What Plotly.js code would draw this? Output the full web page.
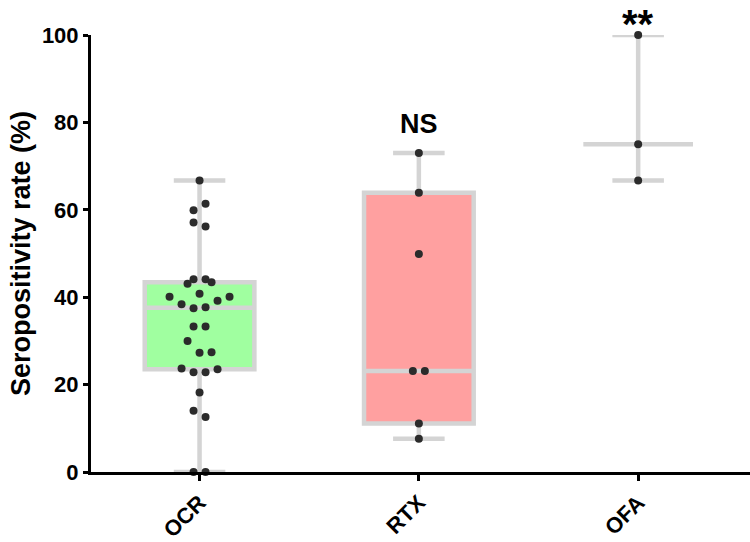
<!DOCTYPE html>
<html>
<head>
<meta charset="utf-8">
<script src="https://cdn.plot.ly/plotly-3.0.1.min.js"></script>
<style>
  html, body { margin: 0; padding: 0; background: #ffffff; }
  #chart { width: 750px; height: 542px; }
</style>
</head>
<body>
<div id="chart"></div>
<script>
// ---- data ----
const categories = ['OCR', 'RTX', 'OFA'];
const ocrValues = [66.7, 61.4, 59.9, 56.2, 57.1, 44.1, 44.1, 40.8, 43.4, 43.1,
                   37.7, 37.5, 39.2, 38.4, 40.1, 40.1, 33.3, 33.3, 27.3, 27.4,
                   30.0, 22.8, 22.8, 23.5, 23.7, 18.2, 12.6, 14.0, 0, 0];
const rtxValues = [73.0, 63.9, 49.9, 23.1, 23.1, 11.1, 7.6];
const ofaValues = [100, 75, 66.7];
const yTickValues = [0, 20, 40, 60, 80, 100];
const annotationLabels = ['', 'NS', '**'];

// ---- layout constants ----
const W = 750, H = 542;
const M = { l: 91, r: 0, t: 35, b: 70 };
const xRange = [-0.495, 2.51];
const yRange = [0, 100];
const plotW = W - M.l - M.r;
const plotH = H - M.t - M.b;
const pxPerX = plotW / (xRange[1] - xRange[0]);

const GRID = '#d4d4d4';
const DOT = '#2b2b2b';
const FONT = 'Arial, "Liberation Sans", Helvetica, sans-serif';

// simple row-based swarm (points with close values share a row, spread symmetrically)
function swarmOffsets(values, binUnits, stepPx) {
  const idx = values.map((v, i) => i).sort((a, b) => values[a] - values[b] || a - b);
  const offsets = new Array(values.length).fill(0);
  let i = 0;
  while (i < idx.length) {
    const start = values[idx[i]];
    const row = [];
    while (i < idx.length && values[idx[i]] - start < binUnits) { row.push(idx[i]); i++; }
    row.sort((a, b) => a - b);
    const n = row.length;
    row.forEach((pi, k) => {
      let slot;
      if (n % 2 === 1) {
        if (k === 0) slot = 0;
        else { const m = Math.ceil(k / 2); slot = (k % 2 === 1) ? m : -m; }
      } else {
        const m = Math.floor(k / 2) + 0.5; slot = (k % 2 === 0) ? m : -m;
      }
      offsets[pi] = slot * stepPx / pxPerX;
    });
  }
  return offsets;
}

function median(arr) {
  const s = arr.slice().sort((a, b) => a - b);
  const n = s.length;
  return n % 2 ? s[(n - 1) / 2] : (s[n / 2 - 1] + s[n / 2]) / 2;
}

const traces = [];
const boxLine = { color: GRID, width: 4.5 };

traces.push({
  type: 'box', x0: 0, y: ocrValues, name: categories[0],
  quartilemethod: 'exclusive', boxpoints: false, width: 0.5, whiskerwidth: 0.47,
  fillcolor: '#a0ffa0', line: boxLine, hoverinfo: 'y'
});
traces.push({
  type: 'box', x0: 1, y: rtxValues, name: categories[1],
  quartilemethod: 'exclusive', boxpoints: false, width: 0.5, whiskerwidth: 0.47,
  fillcolor: '#ffa0a0', line: boxLine, hoverinfo: 'y'
});
// OFA: median with range
const ofaMed = median(ofaValues);
traces.push({
  type: 'box', x: [2], name: categories[2],
  q1: [ofaMed], median: [ofaMed], q3: [ofaMed],
  lowerfence: [Math.min(...ofaValues)], upperfence: [Math.max(...ofaValues)],
  width: 0.5, whiskerwidth: 0.47, boxpoints: false,
  fillcolor: 'rgba(0,0,0,0)', line: boxLine, hoverinfo: 'y'
});

[ocrValues, rtxValues, ofaValues].forEach((vals, ci) => {
  const off = swarmOffsets(vals, 3.0, 12);
  traces.push({
    type: 'scatter', mode: 'markers', name: categories[ci],
    x: vals.map((v, i) => ci + off[i]), y: vals,
    marker: { color: DOT, size: 8, line: { width: 0 } },
    cliponaxis: false, hoverinfo: 'y'
  });
});

const annotations = [
  { x: 1, y: 79.7 / (yRange[1] - yRange[0]), xref: 'x', yref: 'paper',
    text: '<b>' + annotationLabels[1] + '</b>', showarrow: false,
    font: { family: FONT, size: 27, color: '#000' }, xanchor: 'center', yanchor: 'middle' },
  { x: 2, y: 1 + M.t / plotH, xref: 'x', yref: 'paper',
    text: '<b>' + annotationLabels[2] + '</b>', showarrow: false,
    font: { family: FONT, size: 40, color: '#000' }, xanchor: 'center', yanchor: 'top' }
];

const layout = {
  width: W, height: H,
  margin: M,
  paper_bgcolor: '#ffffff', plot_bgcolor: '#ffffff',
  showlegend: false,
  font: { family: FONT, color: '#000' },
  xaxis: {
    range: xRange, tickmode: 'array', tickvals: [0, 1, 2],
    ticktext: categories.map(c => '<b>' + c + '</b>'),
    tickangle: -45, ticks: 'outside', ticklen: 6, tickwidth: 3, tickcolor: '#000',
    showline: true, linecolor: '#000', linewidth: 3,
    showgrid: false, zeroline: false,
    tickfont: { family: FONT, size: 22, color: '#000' }
  },
  yaxis: {
    range: yRange, tickmode: 'array', tickvals: yTickValues,
    ticktext: yTickValues.map(v => '<b>' + v + '</b>'),
    ticks: 'outside', ticklen: 5, tickwidth: 3, tickcolor: '#000',
    showline: true, linecolor: '#000', linewidth: 3,
    showgrid: false, zeroline: false,
    tickfont: { family: FONT, size: 22, color: '#000' },
    title: { text: '<b>Seropositivity rate (%)</b>', font: { family: FONT, size: 27, color: '#000' }, standoff: 4 }
  },
  annotations: annotations
};

Plotly.newPlot('chart', traces, layout, { displayModeBar: false, staticPlot: true });
</script>
</body>
</html>
